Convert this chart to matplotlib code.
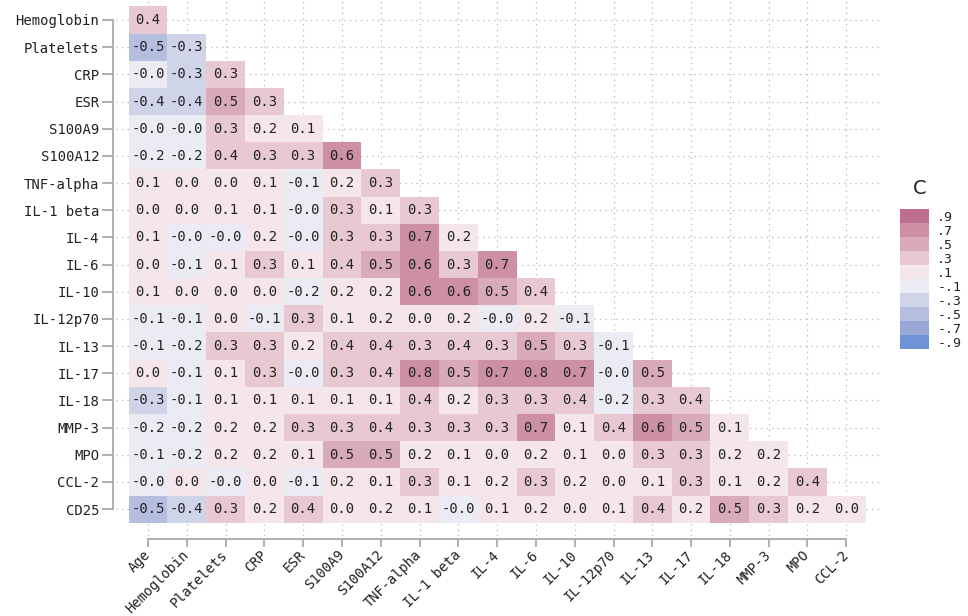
import numpy as np
import matplotlib.pyplot as plt
from matplotlib.colors import ListedColormap, BoundaryNorm

row_names = ['Hemoglobin', 'Platelets', 'CRP', 'ESR', 'S100A9', 'S100A12',
             'TNF-alpha', 'IL-1 beta', 'IL-4', 'IL-6', 'IL-10', 'IL-12p70',
             'IL-13', 'IL-17', 'IL-18', 'MMP-3', 'MPO', 'CCL-2', 'CD25']
col_names = ['Age', 'Hemoglobin', 'Platelets', 'CRP', 'ESR', 'S100A9',
             'S100A12', 'TNF-alpha', 'IL-1 beta', 'IL-4', 'IL-6', 'IL-10',
             'IL-12p70', 'IL-13', 'IL-17', 'IL-18', 'MMP-3', 'MPO', 'CCL-2']

# lower triangle, one list per row (values as printed in the cells)
corr = [
    [0.4],
    [-0.5, -0.3],
    [-0.0, -0.3, 0.3],
    [-0.4, -0.4, 0.5, 0.3],
    [-0.0, -0.0, 0.3, 0.2, 0.1],
    [-0.2, -0.2, 0.4, 0.3, 0.3, 0.6],
    [0.1, 0.0, 0.0, 0.1, -0.1, 0.2, 0.3],
    [0.0, 0.0, 0.1, 0.1, -0.0, 0.3, 0.1, 0.3],
    [0.1, -0.0, -0.0, 0.2, -0.0, 0.3, 0.3, 0.7, 0.2],
    [0.0, -0.1, 0.1, 0.3, 0.1, 0.4, 0.5, 0.6, 0.3, 0.7],
    [0.1, 0.0, 0.0, 0.0, -0.2, 0.2, 0.2, 0.6, 0.6, 0.5, 0.4],
    [-0.1, -0.1, 0.0, -0.1, 0.3, 0.1, 0.2, 0.0, 0.2, -0.0, 0.2, -0.1],
    [-0.1, -0.2, 0.3, 0.3, 0.2, 0.4, 0.4, 0.3, 0.4, 0.3, 0.5, 0.3, -0.1],
    [0.0, -0.1, 0.1, 0.3, -0.0, 0.3, 0.4, 0.8, 0.5, 0.7, 0.8, 0.7, -0.0, 0.5],
    [-0.3, -0.1, 0.1, 0.1, 0.1, 0.1, 0.1, 0.4, 0.2, 0.3, 0.3, 0.4, -0.2, 0.3, 0.4],
    [-0.2, -0.2, 0.2, 0.2, 0.3, 0.3, 0.4, 0.3, 0.3, 0.3, 0.7, 0.1, 0.4, 0.6, 0.5, 0.1],
    [-0.1, -0.2, 0.2, 0.2, 0.1, 0.5, 0.5, 0.2, 0.1, 0.0, 0.2, 0.1, 0.0, 0.3, 0.3, 0.2, 0.2],
    [-0.0, 0.0, -0.0, 0.0, -0.1, 0.2, 0.1, 0.3, 0.1, 0.2, 0.3, 0.2, 0.0, 0.1, 0.3, 0.1, 0.2, 0.4],
    [-0.5, -0.4, 0.3, 0.2, 0.4, 0.0, 0.2, 0.1, -0.0, 0.1, 0.2, 0.0, 0.1, 0.4, 0.2, 0.5, 0.3, 0.2, 0.0],
]

legend_vals = [-0.9, -0.7, -0.5, -0.3, -0.1, 0.1, 0.3, 0.5, 0.7, 0.9]
legend_colors = ['#6f93d5', '#9aa8d8', '#b6bedf', '#d0d4e9', '#ebebf3',
                 '#f4e6ea', '#e8c9d2', '#d9abb9', '#cc8fa3', '#bf6f8e']

mono = 'DejaVu Sans Mono'
txt_col = '#222222'
axis_col = '#aaaaaa'

n_r = len(row_names)
n_c = len(col_names)
M = np.full((n_r, n_c), np.nan)
for r, vals in enumerate(corr):
    M[r, :len(vals)] = vals

cmap = ListedColormap(legend_colors)
bounds = [-1, -0.85, -0.55, -0.45, -0.25, 0, 0.25, 0.45, 0.55, 0.85, 1]
norm = BoundaryNorm(bounds, cmap.N)
# keep the sign of -0.0 for the colour
shade = M + np.copysign(1e-6, M)

fig = plt.figure(figsize=(9.68, 6.16), dpi=100)
ax = fig.add_axes([116/968, 1-536/616, (880-116)/968, 536/616])

ax.pcolormesh(np.arange(n_c+1)-0.5, np.arange(n_r+1)-0.5,
              np.ma.masked_invalid(shade), cmap=cmap, norm=norm)

for r in range(n_r):
    for c in range(n_c):
        if not np.isnan(M[r, c]):
            ax.text(c, r, f'{M[r, c]:.1f}', ha='center', va='center',
                    fontsize=10, family=mono, color=txt_col)

ax.set_xlim(-0.825, 18.87)
ax.set_ylim(18.99, -0.736)

# spines first: set_position resets the ticks
for s in ['top', 'right']:
    ax.spines[s].set_visible(False)
ax.spines['left'].set_position(('outward', 2))
ax.spines['left'].set_bounds(0, n_r-1)
ax.spines['bottom'].set_position(('outward', 2))
ax.spines['bottom'].set_bounds(0, n_c-1)
for s in ['left', 'bottom']:
    ax.spines[s].set_color(axis_col)
    ax.spines[s].set_linewidth(1.3)

ax.set_xticks(range(n_c))
ax.set_xticklabels(col_names, rotation=45, ha='right', va='center',
                   rotation_mode='anchor', family=mono, fontsize=9.8, color=txt_col)
ax.set_yticks(range(n_r))
ax.set_yticklabels(row_names, family=mono, fontsize=10, color=txt_col)
ax.tick_params(axis='x', length=6, width=1.3, color=axis_col, pad=4)
ax.tick_params(axis='y', length=8, width=1.3, color=axis_col, pad=2)

ax.grid(True, ls=(0, (1, 3)), color='#c0c0c0', lw=1)
ax.set_axisbelow(True)

# legend
cax = fig.add_axes([900/968, 1-349/616, 29/968, 140/616])
cax.barh(legend_vals, 1, height=0.2, color=cmap(norm(legend_vals)))
cax.set_xlim(0, 1)
cax.set_ylim(-1, 1)
cax.set_xticks([])
cax.yaxis.tick_right()
cax.set_yticks(legend_vals)
cax.set_yticklabels([f'{v:.1f}'.replace('0.', '.') for v in legend_vals],
                    family=mono, fontsize=9.5, color=txt_col)
cax.tick_params(axis='y', length=0, pad=6)
for s in cax.spines.values():
    s.set_visible(False)
fig.text(913/968, 1-188/616, 'C', fontsize=14, va='center', ha='left', color=txt_col)

fig.savefig('out.png', dpi=100)
